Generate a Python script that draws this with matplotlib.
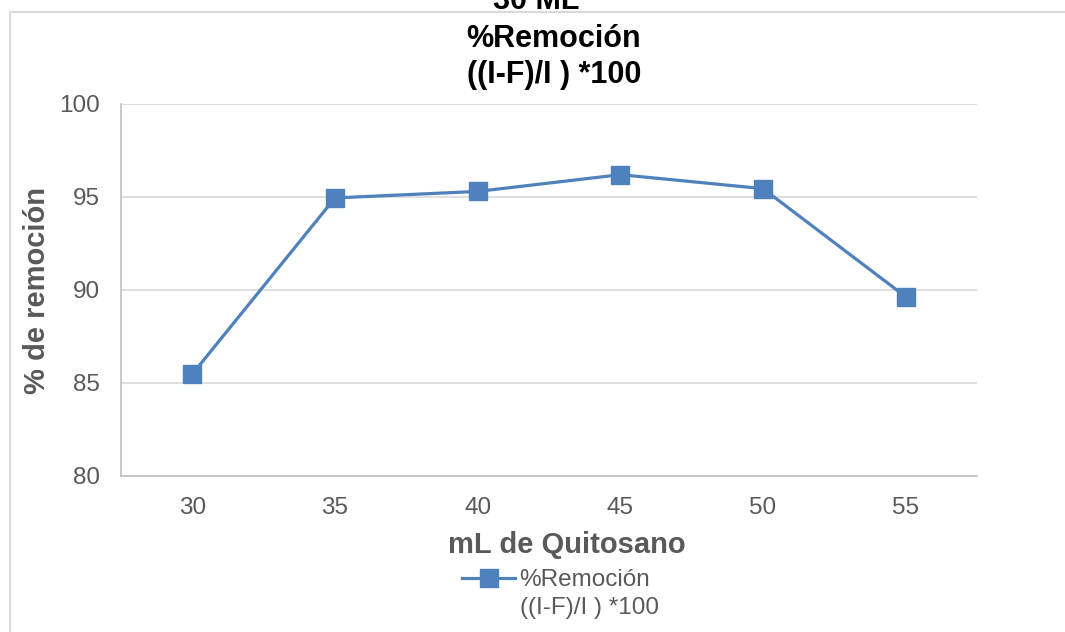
import matplotlib
matplotlib.use('Agg')
import matplotlib.pyplot as plt
from matplotlib.patches import Rectangle

plt.rcParams['font.family'] = ['Liberation Sans', 'DejaVu Sans']

# data
ml_quitosano = ['30', '35', '40', '45', '50', '55']
remocion = [85.48, 94.95, 95.30, 96.20, 95.45, 89.64]
y_ticks = [80, 85, 90, 95, 100]

W, H = 1065, 632
fig = plt.figure(figsize=(W / 100, H / 100), dpi=100)

# outer chart border (partly cut off in the reference)
fig.patches.append(Rectangle((10 / W, -0.1), 1.2, 1.1 - 12 / H,
                             transform=fig.transFigure, fill=False,
                             edgecolor='#d9d9d9', linewidth=1.5))

ax = fig.add_axes([121 / W, 1 - 476 / H, (977 - 121) / W, (476 - 104) / H])

x = range(len(ml_quitosano))
ax.plot(x, remocion, color='#4f81bd', linewidth=2.3, marker='s',
        markersize=12.5, markerfacecolor='#4f81bd', markeredgecolor='#4f81bd',
        label='%Remoción')

ax.set_xlim(-0.5, len(ml_quitosano) - 0.5)
ax.set_ylim(80, 100)
ax.set_yticks(y_ticks)
ax.set_xticks(list(x))
ax.set_xticklabels(ml_quitosano)
ax.grid(axis='y', color='#d9d9d9', linewidth=1.2)
ax.set_axisbelow(True)
for s in ['top', 'right']:
    ax.spines[s].set_visible(False)
for s in ['left', 'bottom']:
    ax.spines[s].set_color('#bfbfbf')
    ax.spines[s].set_linewidth(1.2)
ax.tick_params(length=0, labelsize=17.5, labelcolor='#595959')
ax.tick_params(axis='y', pad=15)
ax.tick_params(axis='x', pad=15)

# title lines
fig.text(536 / W, 1 - 9 / H, '30 ML', ha='center', va='baseline',
         fontsize=22, fontweight='bold', color='black')
fig.text(554 / W, 1 - 47 / H, '%Remoción', ha='center', va='baseline',
         fontsize=22, fontweight='bold', color='black')
fig.text(554 / W, 1 - 83 / H, '((I-F)/I ) *100', ha='center', va='baseline',
         fontsize=22, fontweight='bold', color='black')

# axis labels
fig.text(567 / W, 1 - 545 / H, 'mL de Quitosano', ha='center', va='center',
         fontsize=21, fontweight='bold', color='#595959')
fig.text(37 / W, 1 - 290 / H, '% de remoción', ha='center', va='center',
         rotation=90, fontsize=21, fontweight='bold', color='#595959')

# legend
leg = ax.legend(loc='center left', bbox_to_anchor=(462 / W, 1 - 580 / H),
                bbox_transform=fig.transFigure, frameon=False, borderpad=0,
                borderaxespad=0, handlelength=2.2, handletextpad=0.15,
                fontsize=17.5)
for t in leg.get_texts():
    t.set_color('#595959')
fig.text(520 / W, 1 - 608 / H, '((I-F)/I ) *100', ha='left', va='center',
         fontsize=17.5, color='#595959')

fig.savefig('out.png', dpi=100)
